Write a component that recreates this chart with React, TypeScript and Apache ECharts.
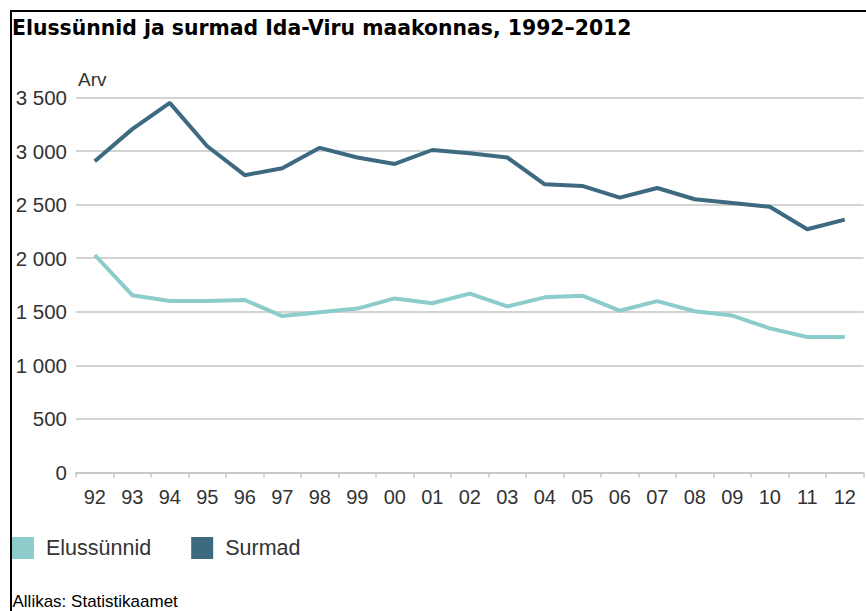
import React, { useEffect, useRef } from "react";
import * as echarts from "echarts";

const years = ["92","93","94","95","96","97","98","99","00","01","02","03","04","05","06","07","08","09","10","11","12"];
const births = [2030, 1655, 1600, 1600, 1610, 1460, 1495, 1530, 1625, 1580, 1670, 1550, 1635, 1650, 1510, 1600, 1505, 1465, 1345, 1265, 1265];
const deaths = [2905, 3205, 3450, 3045, 2775, 2840, 3030, 2940, 2880, 3010, 2980, 2940, 2690, 2675, 2565, 2655, 2550, 2515, 2480, 2270, 2360];
const seriesNames = ["Elussünnid", "Surmad"];
const title = "Elussünnid ja surmad Ida-Viru maakonnas, 1992–2012";
const unitLabel = "Arv";
const sourceText = "Allikas: Statistikaamet";

const fmt = (v: number) => String(v).replace(/\B(?=(\d{3})+(?!\d))/g, " ");

export default function App() {
  const ref = useRef<HTMLDivElement>(null);
  useEffect(() => {
    if (!ref.current) return;
    const chart = echarts.init(ref.current, null, { renderer: "svg" });
    chart.setOption({
      animation: false,
      backgroundColor: "#ffffff",
      grid: { left: 76, right: 2.5, top: 97.5, bottom: 138.5, containLabel: false },
      legend: {
        left: 12,
        top: 537,
        padding: 0,
        icon: "rect",
        itemWidth: 22,
        itemHeight: 22,
        itemGap: 40,
        data: seriesNames,
        textStyle: { fontFamily: "Liberation Sans", fontSize: 21.5, color: "#333", padding: [0, 0, 0, 7] },
      },
      xAxis: {
        type: "category",
        data: years,
        boundaryGap: true,
        axisLine: { show: true, lineStyle: { color: "#c4c4c4", width: 1.5 } },
        axisTick: { show: true, length: 5, lineStyle: { color: "#c4c4c4", width: 1.5 } },
        axisLabel: { fontFamily: "Liberation Sans", fontSize: 20, color: "#333", margin: 14 },
      },
      yAxis: {
        type: "value",
        min: 0,
        max: 3500,
        interval: 500,
        axisLine: { show: false },
        axisTick: { show: false },
        splitLine: { lineStyle: { color: "#c4c4c4", width: 1.5 } },
        axisLabel: { fontFamily: "Liberation Sans", fontSize: 20.5, color: "#333", margin: 9, formatter: fmt },
      },
      series: [
        {
          name: seriesNames[0],
          type: "line",
          data: births,
          symbol: "none",
          color: "#8ccccb",
          lineStyle: { width: 4, color: "#8ccccb" },
        },
        {
          name: seriesNames[1],
          type: "line",
          data: deaths,
          symbol: "none",
          color: "#3d6a80",
          lineStyle: { width: 4, color: "#3d6a80" },
        },
      ],
      graphic: [
        { type: "line", shape: { x1: 11, y1: 11, x2: 866, y2: 11 }, style: { stroke: "#000", lineWidth: 2 } },
        { type: "line", shape: { x1: 11, y1: 10, x2: 11, y2: 611 }, style: { stroke: "#000", lineWidth: 2 } },
        {
          type: "text",
          x: 12,
          y: 28,
          style: { text: title, fontFamily: "DejaVu Sans", fontWeight: "bold", fontSize: 20.4, fill: "#000", verticalAlign: "middle" },
        },
        {
          type: "text",
          x: 78,
          y: 79,
          style: { text: unitLabel, fontFamily: "Liberation Sans", fontSize: 19, fill: "#333", verticalAlign: "middle" },
        },
        {
          type: "text",
          x: 12.5,
          y: 601,
          style: { text: sourceText, fontFamily: "Liberation Sans", fontSize: 17, fill: "#000", verticalAlign: "middle" },
        },
      ],
    });
    return () => chart.dispose();
  }, []);
  return <div ref={ref} style={{ position: "fixed", left: 0, top: 0, width: 866, height: 611 }} />;
}
